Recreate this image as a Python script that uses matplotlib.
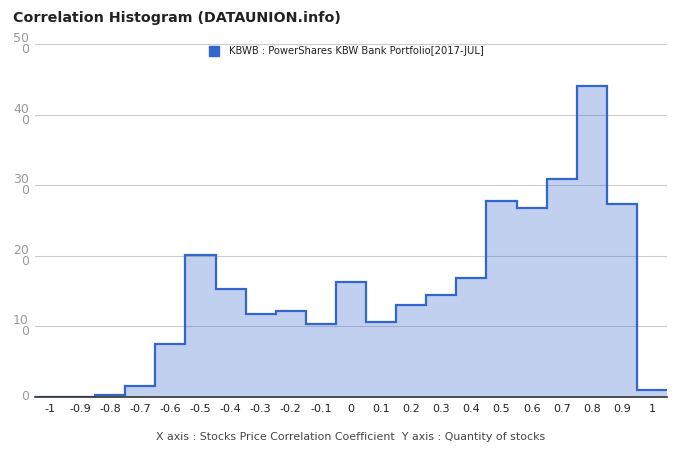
import matplotlib.pyplot as plt
import numpy as np

# correlation bins (centres) and stock counts
bin_centers = [-1.0, -0.9, -0.8, -0.7, -0.6, -0.5, -0.4, -0.3, -0.2, -0.1, 0.0,
               0.1, 0.2, 0.3, 0.4, 0.5, 0.6, 0.7, 0.8, 0.9, 1.0]
counts = [0, 0, 3, 15, 75, 201, 153, 118, 122, 104, 163,
          106, 131, 145, 168, 278, 268, 309, 441, 273, 10]
x_labels = ['-1', '-0.9', '-0.8', '-0.7', '-0.6', '-0.5', '-0.4', '-0.3', '-0.2', '-0.1', '0',
            '0.1', '0.2', '0.3', '0.4', '0.5', '0.6', '0.7', '0.8', '0.9', '1']
y_ticks = [0, 100, 200, 300, 400, 500]
y_labels = ['0', '10\n0', '20\n0', '30\n0', '40\n0', '50\n0']

title = 'Correlation Histogram (DATAUNION.info)'
series_name = 'KBWB : PowerShares KBW Bank Portfolio[2017-JUL]'
axis_note = 'X axis : Stocks Price Correlation Coefficient  Y axis : Quantity of stocks'

line_color = '#3366cc'

centers = np.array(bin_centers)
half = 0.05
edges = np.append(centers - half, centers[-1] + half)

fig = plt.figure(figsize=(6.8, 4.62), dpi=100)
ax = fig.add_axes([35 / 680, 65 / 462, 632 / 680, 353 / 462])

# translucent fill lets the gridlines show through, like the original
ax.stairs(counts, edges, fill=True, color=line_color, alpha=0.3, linewidth=0, zorder=2)
ax.stairs(counts, edges, baseline=None, color=line_color, linewidth=1.6, zorder=3)

ax.set_xlim(edges[0], edges[-1])
ax.set_ylim(0, 500)
ax.set_xticks(centers)
ax.set_xticklabels(x_labels, fontsize=8, color='#222222')
ax.set_yticks(y_ticks)
ax.set_yticklabels(y_labels, fontsize=9, color='#999999', linespacing=0.8)
ax.tick_params(axis='both', length=0)
ax.tick_params(axis='x', pad=5)
ax.tick_params(axis='y', pad=4.5)
for lab in ax.get_yticklabels():
    lab.set_verticalalignment('center')
    lab.set_multialignment('right')

ax.set_axisbelow(True)
ax.grid(axis='y', color='#cccccc', linewidth=0.8)
for s in ['top', 'right', 'left']:
    ax.spines[s].set_visible(False)
ax.spines['bottom'].set_color('#333333')
ax.spines['bottom'].set_linewidth(1.2)
ax.spines['bottom'].set_zorder(4)

fig.text(13 / 680, 1 - 18 / 462, title, fontsize=10.3, fontweight='bold',
         color='#222222', va='center', ha='left')

# legend
fig.patches.append(plt.Rectangle((209 / 680, 1 - 56 / 462), 10 / 680, 10 / 462,
                                 transform=fig.transFigure, color=line_color))
fig.text(229 / 680, 1 - 51 / 462, series_name, fontsize=7.2, color='#222222',
         va='center', ha='left')

fig.text(351 / 680, 1 - 437 / 462, axis_note, fontsize=7.9, color='#444444',
         va='center', ha='center')

fig.savefig('out.png', dpi=100)
